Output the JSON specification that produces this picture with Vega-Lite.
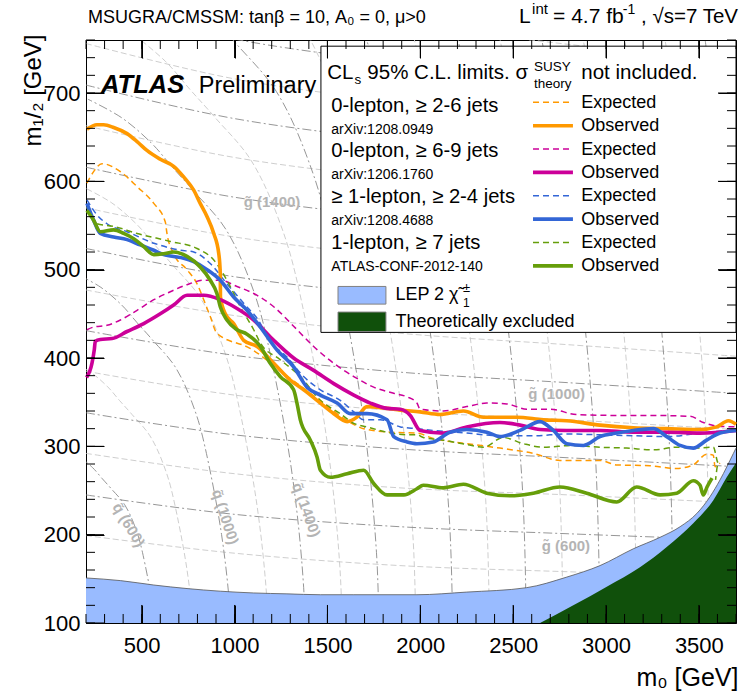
{
  "$schema": "https://vega.github.io/schema/vega-lite/v6.json",
  "width": 650,
  "height": 583,
  "autosize": "none",
  "padding": {"left": 86, "top": 40, "right": 3, "bottom": 69},
  "background": "white",
  "config": {
    "view": {"stroke": "black", "strokeWidth": 1},
    "font": "Liberation Sans",
    "text": {"font": "Liberation Sans", "color": "black"}
  },
  "datasets": {
    "curves": [
      {"analysis":"0L_2to6","kind":"exp","i":0,"m0":205,"m12":598},{"analysis":"0L_2to6","kind":"exp","i":1,"m0":241,"m12":611},{"analysis":"0L_2to6","kind":"exp","i":2,"m0":286,"m12":620},{"analysis":"0L_2to6","kind":"exp","i":3,"m0":385,"m12":611},{"analysis":"0L_2to6","kind":"exp","i":4,"m0":475,"m12":594},{"analysis":"0L_2to6","kind":"exp","i":5,"m0":565,"m12":575},{"analysis":"0L_2to6","kind":"exp","i":6,"m0":627,"m12":554},{"analysis":"0L_2to6","kind":"exp","i":7,"m0":636,"m12":541},{"analysis":"0L_2to6","kind":"exp","i":8,"m0":672,"m12":518},{"analysis":"0L_2to6","kind":"exp","i":9,"m0":744,"m12":500},{"analysis":"0L_2to6","kind":"exp","i":10,"m0":798,"m12":484},{"analysis":"0L_2to6","kind":"exp","i":11,"m0":834,"m12":466},{"analysis":"0L_2to6","kind":"exp","i":12,"m0":869,"m12":447},{"analysis":"0L_2to6","kind":"exp","i":13,"m0":905,"m12":428},{"analysis":"0L_2to6","kind":"exp","i":14,"m0":1083,"m12":411},{"analysis":"0L_2to6","kind":"exp","i":15,"m0":1299,"m12":377},{"analysis":"0L_2to6","kind":"exp","i":16,"m0":1460,"m12":352},{"analysis":"0L_2to6","kind":"exp","i":17,"m0":1622,"m12":327},{"analysis":"0L_2to6","kind":"exp","i":18,"m0":1695,"m12":320},{"analysis":"0L_2to6","kind":"exp","i":19,"m0":1837,"m12":316},{"analysis":"0L_2to6","kind":"exp","i":20,"m0":1982,"m12":315},{"analysis":"0L_2to6","kind":"exp","i":21,"m0":2069,"m12":309},{"analysis":"0L_2to6","kind":"exp","i":22,"m0":2250,"m12":303},{"analysis":"0L_2to6","kind":"exp","i":23,"m0":2429,"m12":298},{"analysis":"0L_2to6","kind":"exp","i":24,"m0":2609,"m12":292},{"analysis":"0L_2to6","kind":"exp","i":25,"m0":2752,"m12":284},{"analysis":"0L_2to6","kind":"exp","i":26,"m0":2968,"m12":284},{"analysis":"0L_2to6","kind":"exp","i":27,"m0":3058,"m12":279},{"analysis":"0L_2to6","kind":"exp","i":28,"m0":3237,"m12":278},{"analysis":"0L_2to6","kind":"exp","i":29,"m0":3381,"m12":275},{"analysis":"0L_2to6","kind":"exp","i":30,"m0":3470,"m12":279},{"analysis":"0L_2to6","kind":"exp","i":31,"m0":3542,"m12":291},{"analysis":"0L_2to6","kind":"exp","i":32,"m0":3578,"m12":290},{"analysis":"0L_2to6","kind":"exp","i":33,"m0":3587,"m12":277},{"analysis":"0L_2to6","kind":"exp","i":34,"m0":3614,"m12":281},
      {"analysis":"0L_2to6","kind":"obs","i":0,"m0":205,"m12":659},{"analysis":"0L_2to6","kind":"obs","i":1,"m0":259,"m12":664},{"analysis":"0L_2to6","kind":"obs","i":2,"m0":295,"m12":664},{"analysis":"0L_2to6","kind":"obs","i":3,"m0":349,"m12":661},{"analysis":"0L_2to6","kind":"obs","i":4,"m0":421,"m12":654},{"analysis":"0L_2to6","kind":"obs","i":5,"m0":475,"m12":645},{"analysis":"0L_2to6","kind":"obs","i":6,"m0":528,"m12":635},{"analysis":"0L_2to6","kind":"obs","i":7,"m0":600,"m12":625},{"analysis":"0L_2to6","kind":"obs","i":8,"m0":672,"m12":617},{"analysis":"0L_2to6","kind":"obs","i":9,"m0":726,"m12":605},{"analysis":"0L_2to6","kind":"obs","i":10,"m0":780,"m12":590},{"analysis":"0L_2to6","kind":"obs","i":11,"m0":815,"m12":575},{"analysis":"0L_2to6","kind":"obs","i":12,"m0":852,"m12":560},{"analysis":"0L_2to6","kind":"obs","i":13,"m0":888,"m12":541},{"analysis":"0L_2to6","kind":"obs","i":14,"m0":915,"m12":518},{"analysis":"0L_2to6","kind":"obs","i":15,"m0":923,"m12":496},{"analysis":"0L_2to6","kind":"obs","i":16,"m0":924,"m12":469},{"analysis":"0L_2to6","kind":"obs","i":17,"m0":950,"m12":450},{"analysis":"0L_2to6","kind":"obs","i":18,"m0":995,"m12":439},{"analysis":"0L_2to6","kind":"obs","i":19,"m0":1049,"m12":420},{"analysis":"0L_2to6","kind":"obs","i":20,"m0":1121,"m12":413},{"analysis":"0L_2to6","kind":"obs","i":21,"m0":1211,"m12":394},{"analysis":"0L_2to6","kind":"obs","i":22,"m0":1300,"m12":375},{"analysis":"0L_2to6","kind":"obs","i":23,"m0":1372,"m12":364},{"analysis":"0L_2to6","kind":"obs","i":24,"m0":1462,"m12":349},{"analysis":"0L_2to6","kind":"obs","i":25,"m0":1534,"m12":337},{"analysis":"0L_2to6","kind":"obs","i":26,"m0":1606,"m12":328},{"analysis":"0L_2to6","kind":"obs","i":27,"m0":1659,"m12":333},{"analysis":"0L_2to6","kind":"obs","i":28,"m0":1713,"m12":345},{"analysis":"0L_2to6","kind":"obs","i":29,"m0":1821,"m12":343},{"analysis":"0L_2to6","kind":"obs","i":30,"m0":1893,"m12":341},{"analysis":"0L_2to6","kind":"obs","i":31,"m0":1999,"m12":339},{"analysis":"0L_2to6","kind":"obs","i":32,"m0":2106,"m12":336},{"analysis":"0L_2to6","kind":"obs","i":33,"m0":2232,"m12":340},{"analysis":"0L_2to6","kind":"obs","i":34,"m0":2340,"m12":333},{"analysis":"0L_2to6","kind":"obs","i":35,"m0":2519,"m12":333},{"analysis":"0L_2to6","kind":"obs","i":36,"m0":2663,"m12":330},{"analysis":"0L_2to6","kind":"obs","i":37,"m0":2789,"m12":329},{"analysis":"0L_2to6","kind":"obs","i":38,"m0":2968,"m12":324},{"analysis":"0L_2to6","kind":"obs","i":39,"m0":3147,"m12":321},{"analysis":"0L_2to6","kind":"obs","i":40,"m0":3327,"m12":320},{"analysis":"0L_2to6","kind":"obs","i":41,"m0":3506,"m12":319},{"analysis":"0L_2to6","kind":"obs","i":42,"m0":3596,"m12":322},{"analysis":"0L_2to6","kind":"obs","i":43,"m0":3659,"m12":329},{"analysis":"0L_2to6","kind":"obs","i":44,"m0":3700,"m12":325},
      {"analysis":"0L_6to9","kind":"exp","i":0,"m0":205,"m12":432},{"analysis":"0L_6to9","kind":"exp","i":1,"m0":241,"m12":435},{"analysis":"0L_6to9","kind":"exp","i":2,"m0":313,"m12":437},{"analysis":"0L_6to9","kind":"exp","i":3,"m0":385,"m12":443},{"analysis":"0L_6to9","kind":"exp","i":4,"m0":475,"m12":454},{"analysis":"0L_6to9","kind":"exp","i":5,"m0":565,"m12":466},{"analysis":"0L_6to9","kind":"exp","i":6,"m0":654,"m12":475},{"analysis":"0L_6to9","kind":"exp","i":7,"m0":744,"m12":483},{"analysis":"0L_6to9","kind":"exp","i":8,"m0":834,"m12":488},{"analysis":"0L_6to9","kind":"exp","i":9,"m0":923,"m12":488},{"analysis":"0L_6to9","kind":"exp","i":10,"m0":1013,"m12":481},{"analysis":"0L_6to9","kind":"exp","i":11,"m0":1103,"m12":473},{"analysis":"0L_6to9","kind":"exp","i":12,"m0":1211,"m12":458},{"analysis":"0L_6to9","kind":"exp","i":13,"m0":1318,"m12":436},{"analysis":"0L_6to9","kind":"exp","i":14,"m0":1426,"m12":413},{"analysis":"0L_6to9","kind":"exp","i":15,"m0":1534,"m12":394},{"analysis":"0L_6to9","kind":"exp","i":16,"m0":1642,"m12":379},{"analysis":"0L_6to9","kind":"exp","i":17,"m0":1749,"m12":367},{"analysis":"0L_6to9","kind":"exp","i":18,"m0":1857,"m12":360},{"analysis":"0L_6to9","kind":"exp","i":19,"m0":1929,"m12":356},{"analysis":"0L_6to9","kind":"exp","i":20,"m0":1982,"m12":349},{"analysis":"0L_6to9","kind":"exp","i":21,"m0":1999,"m12":342},{"analysis":"0L_6to9","kind":"exp","i":22,"m0":2124,"m12":340},{"analysis":"0L_6to9","kind":"exp","i":23,"m0":2250,"m12":345},{"analysis":"0L_6to9","kind":"exp","i":24,"m0":2358,"m12":349},{"analysis":"0L_6to9","kind":"exp","i":25,"m0":2466,"m12":348},{"analysis":"0L_6to9","kind":"exp","i":26,"m0":2573,"m12":342},{"analysis":"0L_6to9","kind":"exp","i":27,"m0":2699,"m12":342},{"analysis":"0L_6to9","kind":"exp","i":28,"m0":2842,"m12":336},{"analysis":"0L_6to9","kind":"exp","i":29,"m0":3058,"m12":335},{"analysis":"0L_6to9","kind":"exp","i":30,"m0":3237,"m12":335},{"analysis":"0L_6to9","kind":"exp","i":31,"m0":3453,"m12":334},{"analysis":"0L_6to9","kind":"exp","i":32,"m0":3524,"m12":327},{"analysis":"0L_6to9","kind":"exp","i":33,"m0":3596,"m12":323},{"analysis":"0L_6to9","kind":"exp","i":34,"m0":3700,"m12":322},
      {"analysis":"0L_6to9","kind":"obs","i":0,"m0":203,"m12":378},{"analysis":"0L_6to9","kind":"obs","i":1,"m0":232,"m12":394},{"analysis":"0L_6to9","kind":"obs","i":2,"m0":245,"m12":410},{"analysis":"0L_6to9","kind":"obs","i":3,"m0":250,"m12":419},{"analysis":"0L_6to9","kind":"obs","i":4,"m0":277,"m12":421},{"analysis":"0L_6to9","kind":"obs","i":5,"m0":340,"m12":422},{"analysis":"0L_6to9","kind":"obs","i":6,"m0":421,"m12":430},{"analysis":"0L_6to9","kind":"obs","i":7,"m0":511,"m12":439},{"analysis":"0L_6to9","kind":"obs","i":8,"m0":600,"m12":450},{"analysis":"0L_6to9","kind":"obs","i":9,"m0":672,"m12":460},{"analysis":"0L_6to9","kind":"obs","i":10,"m0":744,"m12":471},{"analysis":"0L_6to9","kind":"obs","i":11,"m0":834,"m12":471},{"analysis":"0L_6to9","kind":"obs","i":12,"m0":923,"m12":466},{"analysis":"0L_6to9","kind":"obs","i":13,"m0":1013,"m12":456},{"analysis":"0L_6to9","kind":"obs","i":14,"m0":1103,"m12":443},{"analysis":"0L_6to9","kind":"obs","i":15,"m0":1211,"m12":420},{"analysis":"0L_6to9","kind":"obs","i":16,"m0":1318,"m12":400},{"analysis":"0L_6to9","kind":"obs","i":17,"m0":1426,"m12":386},{"analysis":"0L_6to9","kind":"obs","i":18,"m0":1534,"m12":371},{"analysis":"0L_6to9","kind":"obs","i":19,"m0":1642,"m12":358},{"analysis":"0L_6to9","kind":"obs","i":20,"m0":1731,"m12":349},{"analysis":"0L_6to9","kind":"obs","i":21,"m0":1821,"m12":343},{"analysis":"0L_6to9","kind":"obs","i":22,"m0":1893,"m12":342},{"analysis":"0L_6to9","kind":"obs","i":23,"m0":1946,"m12":335},{"analysis":"0L_6to9","kind":"obs","i":24,"m0":1999,"m12":318},{"analysis":"0L_6to9","kind":"obs","i":25,"m0":2124,"m12":315},{"analysis":"0L_6to9","kind":"obs","i":26,"m0":2250,"m12":322},{"analysis":"0L_6to9","kind":"obs","i":27,"m0":2429,"m12":327},{"analysis":"0L_6to9","kind":"obs","i":28,"m0":2537,"m12":324},{"analysis":"0L_6to9","kind":"obs","i":29,"m0":2645,"m12":319},{"analysis":"0L_6to9","kind":"obs","i":30,"m0":2789,"m12":318},{"analysis":"0L_6to9","kind":"obs","i":31,"m0":2968,"m12":318},{"analysis":"0L_6to9","kind":"obs","i":32,"m0":3147,"m12":316},{"analysis":"0L_6to9","kind":"obs","i":33,"m0":3327,"m12":316},{"analysis":"0L_6to9","kind":"obs","i":34,"m0":3506,"m12":315},{"analysis":"0L_6to9","kind":"obs","i":35,"m0":3700,"m12":318},
      {"analysis":"1L_2to4","kind":"exp","i":0,"m0":205,"m12":579},{"analysis":"1L_2to4","kind":"exp","i":1,"m0":259,"m12":562},{"analysis":"1L_2to4","kind":"exp","i":2,"m0":313,"m12":552},{"analysis":"1L_2to4","kind":"exp","i":3,"m0":421,"m12":543},{"analysis":"1L_2to4","kind":"exp","i":4,"m0":565,"m12":530},{"analysis":"1L_2to4","kind":"exp","i":5,"m0":708,"m12":522},{"analysis":"1L_2to4","kind":"exp","i":6,"m0":780,"m12":520},{"analysis":"1L_2to4","kind":"exp","i":7,"m0":869,"m12":507},{"analysis":"1L_2to4","kind":"exp","i":8,"m0":959,"m12":484},{"analysis":"1L_2to4","kind":"exp","i":9,"m0":1049,"m12":462},{"analysis":"1L_2to4","kind":"exp","i":10,"m0":1139,"m12":439},{"analysis":"1L_2to4","kind":"exp","i":11,"m0":1175,"m12":424},{"analysis":"1L_2to4","kind":"exp","i":12,"m0":1282,"m12":401},{"analysis":"1L_2to4","kind":"exp","i":13,"m0":1372,"m12":379},{"analysis":"1L_2to4","kind":"exp","i":14,"m0":1462,"m12":364},{"analysis":"1L_2to4","kind":"exp","i":15,"m0":1569,"m12":352},{"analysis":"1L_2to4","kind":"exp","i":16,"m0":1642,"m12":339},{"analysis":"1L_2to4","kind":"exp","i":17,"m0":1695,"m12":330},{"analysis":"1L_2to4","kind":"exp","i":18,"m0":1785,"m12":330},{"analysis":"1L_2to4","kind":"exp","i":19,"m0":1893,"m12":322},{"analysis":"1L_2to4","kind":"exp","i":20,"m0":1982,"m12":320},{"analysis":"1L_2to4","kind":"exp","i":21,"m0":2070,"m12":318},{"analysis":"1L_2to4","kind":"exp","i":22,"m0":2250,"m12":315},{"analysis":"1L_2to4","kind":"exp","i":23,"m0":2429,"m12":312},{"analysis":"1L_2to4","kind":"exp","i":24,"m0":2609,"m12":312},{"analysis":"1L_2to4","kind":"exp","i":25,"m0":2789,"m12":314},{"analysis":"1L_2to4","kind":"exp","i":26,"m0":2968,"m12":313},{"analysis":"1L_2to4","kind":"exp","i":27,"m0":3147,"m12":312},{"analysis":"1L_2to4","kind":"exp","i":28,"m0":3327,"m12":311},{"analysis":"1L_2to4","kind":"exp","i":29,"m0":3506,"m12":315},{"analysis":"1L_2to4","kind":"exp","i":30,"m0":3700,"m12":319},
      {"analysis":"1L_2to4","kind":"obs","i":0,"m0":205,"m12":575},{"analysis":"1L_2to4","kind":"obs","i":1,"m0":241,"m12":556},{"analysis":"1L_2to4","kind":"obs","i":2,"m0":277,"m12":541},{"analysis":"1L_2to4","kind":"obs","i":3,"m0":349,"m12":537},{"analysis":"1L_2to4","kind":"obs","i":4,"m0":421,"m12":534},{"analysis":"1L_2to4","kind":"obs","i":5,"m0":492,"m12":528},{"analysis":"1L_2to4","kind":"obs","i":6,"m0":565,"m12":522},{"analysis":"1L_2to4","kind":"obs","i":7,"m0":618,"m12":517},{"analysis":"1L_2to4","kind":"obs","i":8,"m0":672,"m12":515},{"analysis":"1L_2to4","kind":"obs","i":9,"m0":726,"m12":513},{"analysis":"1L_2to4","kind":"obs","i":10,"m0":780,"m12":509},{"analysis":"1L_2to4","kind":"obs","i":11,"m0":852,"m12":500},{"analysis":"1L_2to4","kind":"obs","i":12,"m0":923,"m12":488},{"analysis":"1L_2to4","kind":"obs","i":13,"m0":995,"m12":469},{"analysis":"1L_2to4","kind":"obs","i":14,"m0":1067,"m12":454},{"analysis":"1L_2to4","kind":"obs","i":15,"m0":1139,"m12":435},{"analysis":"1L_2to4","kind":"obs","i":16,"m0":1229,"m12":409},{"analysis":"1L_2to4","kind":"obs","i":17,"m0":1318,"m12":390},{"analysis":"1L_2to4","kind":"obs","i":18,"m0":1390,"m12":367},{"analysis":"1L_2to4","kind":"obs","i":19,"m0":1462,"m12":358},{"analysis":"1L_2to4","kind":"obs","i":20,"m0":1552,"m12":349},{"analysis":"1L_2to4","kind":"obs","i":21,"m0":1623,"m12":337},{"analysis":"1L_2to4","kind":"obs","i":22,"m0":1713,"m12":337},{"analysis":"1L_2to4","kind":"obs","i":23,"m0":1821,"m12":330},{"analysis":"1L_2to4","kind":"obs","i":24,"m0":1857,"m12":311},{"analysis":"1L_2to4","kind":"obs","i":25,"m0":1929,"m12":305},{"analysis":"1L_2to4","kind":"obs","i":26,"m0":1982,"m12":303},{"analysis":"1L_2to4","kind":"obs","i":27,"m0":2070,"m12":305},{"analysis":"1L_2to4","kind":"obs","i":28,"m0":2160,"m12":316},{"analysis":"1L_2to4","kind":"obs","i":29,"m0":2250,"m12":319},{"analysis":"1L_2to4","kind":"obs","i":30,"m0":2358,"m12":316},{"analysis":"1L_2to4","kind":"obs","i":31,"m0":2429,"m12":311},{"analysis":"1L_2to4","kind":"obs","i":32,"m0":2537,"m12":318},{"analysis":"1L_2to4","kind":"obs","i":33,"m0":2645,"m12":328},{"analysis":"1L_2to4","kind":"obs","i":34,"m0":2716,"m12":318},{"analysis":"1L_2to4","kind":"obs","i":35,"m0":2789,"m12":303},{"analysis":"1L_2to4","kind":"obs","i":36,"m0":2878,"m12":301},{"analysis":"1L_2to4","kind":"obs","i":37,"m0":2968,"m12":311},{"analysis":"1L_2to4","kind":"obs","i":38,"m0":3058,"m12":315},{"analysis":"1L_2to4","kind":"obs","i":39,"m0":3147,"m12":318},{"analysis":"1L_2to4","kind":"obs","i":40,"m0":3255,"m12":320},{"analysis":"1L_2to4","kind":"obs","i":41,"m0":3327,"m12":311},{"analysis":"1L_2to4","kind":"obs","i":42,"m0":3399,"m12":301},{"analysis":"1L_2to4","kind":"obs","i":43,"m0":3470,"m12":298},{"analysis":"1L_2to4","kind":"obs","i":44,"m0":3542,"m12":307},{"analysis":"1L_2to4","kind":"obs","i":45,"m0":3614,"m12":315},{"analysis":"1L_2to4","kind":"obs","i":46,"m0":3700,"m12":318},
      {"analysis":"1L_7","kind":"exp","i":0,"m0":205,"m12":571},{"analysis":"1L_7","kind":"exp","i":1,"m0":259,"m12":552},{"analysis":"1L_7","kind":"exp","i":2,"m0":349,"m12":549},{"analysis":"1L_7","kind":"exp","i":3,"m0":475,"m12":541},{"analysis":"1L_7","kind":"exp","i":4,"m0":654,"m12":532},{"analysis":"1L_7","kind":"exp","i":5,"m0":798,"m12":524},{"analysis":"1L_7","kind":"exp","i":6,"m0":888,"m12":511},{"analysis":"1L_7","kind":"exp","i":7,"m0":959,"m12":488},{"analysis":"1L_7","kind":"exp","i":8,"m0":1031,"m12":458},{"analysis":"1L_7","kind":"exp","i":9,"m0":1103,"m12":432},{"analysis":"1L_7","kind":"exp","i":10,"m0":1139,"m12":417},{"analysis":"1L_7","kind":"exp","i":11,"m0":1246,"m12":398},{"analysis":"1L_7","kind":"exp","i":12,"m0":1354,"m12":379},{"analysis":"1L_7","kind":"exp","i":13,"m0":1462,"m12":352},{"analysis":"1L_7","kind":"exp","i":14,"m0":1569,"m12":337},{"analysis":"1L_7","kind":"exp","i":15,"m0":1642,"m12":326},{"analysis":"1L_7","kind":"exp","i":16,"m0":1713,"m12":322},{"analysis":"1L_7","kind":"exp","i":17,"m0":1821,"m12":316},{"analysis":"1L_7","kind":"exp","i":18,"m0":1929,"m12":313},{"analysis":"1L_7","kind":"exp","i":19,"m0":1982,"m12":313},{"analysis":"1L_7","kind":"exp","i":20,"m0":2016,"m12":310},{"analysis":"1L_7","kind":"exp","i":21,"m0":2124,"m12":307},{"analysis":"1L_7","kind":"exp","i":22,"m0":2250,"m12":302},{"analysis":"1L_7","kind":"exp","i":23,"m0":2340,"m12":299},{"analysis":"1L_7","kind":"exp","i":24,"m0":2447,"m12":310},{"analysis":"1L_7","kind":"exp","i":25,"m0":2555,"m12":303},{"analysis":"1L_7","kind":"exp","i":26,"m0":2663,"m12":299},{"analysis":"1L_7","kind":"exp","i":27,"m0":2824,"m12":301},{"analysis":"1L_7","kind":"exp","i":28,"m0":2968,"m12":299},{"analysis":"1L_7","kind":"exp","i":29,"m0":3111,"m12":298},{"analysis":"1L_7","kind":"exp","i":30,"m0":3255,"m12":296},{"analysis":"1L_7","kind":"exp","i":31,"m0":3381,"m12":299},{"analysis":"1L_7","kind":"exp","i":32,"m0":3470,"m12":298},{"analysis":"1L_7","kind":"exp","i":33,"m0":3578,"m12":299},{"analysis":"1L_7","kind":"exp","i":34,"m0":3605,"m12":281},{"analysis":"1L_7","kind":"exp","i":35,"m0":3590,"m12":262},
      {"analysis":"1L_7","kind":"obs","i":0,"m0":205,"m12":567},{"analysis":"1L_7","kind":"obs","i":1,"m0":241,"m12":556},{"analysis":"1L_7","kind":"obs","i":2,"m0":277,"m12":543},{"analysis":"1L_7","kind":"obs","i":3,"m0":349,"m12":545},{"analysis":"1L_7","kind":"obs","i":4,"m0":403,"m12":541},{"analysis":"1L_7","kind":"obs","i":5,"m0":457,"m12":535},{"analysis":"1L_7","kind":"obs","i":6,"m0":511,"m12":526},{"analysis":"1L_7","kind":"obs","i":7,"m0":565,"m12":517},{"analysis":"1L_7","kind":"obs","i":8,"m0":618,"m12":518},{"analysis":"1L_7","kind":"obs","i":9,"m0":672,"m12":520},{"analysis":"1L_7","kind":"obs","i":10,"m0":744,"m12":515},{"analysis":"1L_7","kind":"obs","i":11,"m0":815,"m12":503},{"analysis":"1L_7","kind":"obs","i":12,"m0":869,"m12":488},{"analysis":"1L_7","kind":"obs","i":13,"m0":905,"m12":473},{"analysis":"1L_7","kind":"obs","i":14,"m0":923,"m12":458},{"analysis":"1L_7","kind":"obs","i":15,"m0":959,"m12":443},{"analysis":"1L_7","kind":"obs","i":16,"m0":1013,"m12":432},{"analysis":"1L_7","kind":"obs","i":17,"m0":1067,"m12":427},{"analysis":"1L_7","kind":"obs","i":18,"m0":1139,"m12":413},{"analysis":"1L_7","kind":"obs","i":19,"m0":1192,"m12":394},{"analysis":"1L_7","kind":"obs","i":20,"m0":1246,"m12":379},{"analysis":"1L_7","kind":"obs","i":21,"m0":1318,"m12":364},{"analysis":"1L_7","kind":"obs","i":22,"m0":1336,"m12":349},{"analysis":"1L_7","kind":"obs","i":23,"m0":1354,"m12":330},{"analysis":"1L_7","kind":"obs","i":24,"m0":1408,"m12":307},{"analysis":"1L_7","kind":"obs","i":25,"m0":1444,"m12":288},{"analysis":"1L_7","kind":"obs","i":26,"m0":1462,"m12":273},{"analysis":"1L_7","kind":"obs","i":27,"m0":1516,"m12":265},{"analysis":"1L_7","kind":"obs","i":28,"m0":1606,"m12":269},{"analysis":"1L_7","kind":"obs","i":29,"m0":1695,"m12":273},{"analysis":"1L_7","kind":"obs","i":30,"m0":1749,"m12":258},{"analysis":"1L_7","kind":"obs","i":31,"m0":1821,"m12":245},{"analysis":"1L_7","kind":"obs","i":32,"m0":1911,"m12":245},{"analysis":"1L_7","kind":"obs","i":33,"m0":1982,"m12":252},{"analysis":"1L_7","kind":"obs","i":34,"m0":2016,"m12":256},{"analysis":"1L_7","kind":"obs","i":35,"m0":2124,"m12":253},{"analysis":"1L_7","kind":"obs","i":36,"m0":2232,"m12":257},{"analysis":"1L_7","kind":"obs","i":37,"m0":2358,"m12":247},{"analysis":"1L_7","kind":"obs","i":38,"m0":2483,"m12":244},{"analysis":"1L_7","kind":"obs","i":39,"m0":2609,"m12":247},{"analysis":"1L_7","kind":"obs","i":40,"m0":2752,"m12":254},{"analysis":"1L_7","kind":"obs","i":41,"m0":2896,"m12":247},{"analysis":"1L_7","kind":"obs","i":42,"m0":3058,"m12":237},{"analysis":"1L_7","kind":"obs","i":43,"m0":3165,"m12":254},{"analysis":"1L_7","kind":"obs","i":44,"m0":3291,"m12":245},{"analysis":"1L_7","kind":"obs","i":45,"m0":3381,"m12":247},{"analysis":"1L_7","kind":"obs","i":46,"m0":3470,"m12":261},{"analysis":"1L_7","kind":"obs","i":47,"m0":3506,"m12":256},{"analysis":"1L_7","kind":"obs","i":48,"m0":3524,"m12":245},{"analysis":"1L_7","kind":"obs","i":49,"m0":3544,"m12":254},{"analysis":"1L_7","kind":"obs","i":50,"m0":3571,"m12":264}
    ],
    "lep": [
      {"m0":200,"m12":151},{"m0":385,"m12":148},{"m0":565,"m12":143},{"m0":744,"m12":139},{"m0":923,"m12":136},{"m0":1103,"m12":134},{"m0":1282,"m12":133},{"m0":1462,"m12":132},{"m0":1642,"m12":132},{"m0":1982,"m12":132},{"m0":2250,"m12":135},{"m0":2573,"m12":140},{"m0":2789,"m12":152},{"m0":2968,"m12":165},{"m0":3147,"m12":184},{"m0":3291,"m12":197},{"m0":3399,"m12":209},{"m0":3489,"m12":224},{"m0":3560,"m12":243},{"m0":3614,"m12":262},{"m0":3686,"m12":292},{"m0":3700,"m12":298}
    ],
    "excluded": [
      {"m0":2645,"m12":100},{"m0":2824,"m12":120},{"m0":3004,"m12":141},{"m0":3183,"m12":163},{"m0":3327,"m12":186},{"m0":3470,"m12":213},{"m0":3578,"m12":239},{"m0":3650,"m12":265},{"m0":3700,"m12":281}
    ],
    "xTicks": [{"m0":200},{"m0":300},{"m0":400},{"m0":500},{"m0":600},{"m0":700},{"m0":800},{"m0":900},{"m0":1000},{"m0":1100},{"m0":1200},{"m0":1300},{"m0":1400},{"m0":1500},{"m0":1600},{"m0":1700},{"m0":1800},{"m0":1900},{"m0":2000},{"m0":2100},{"m0":2200},{"m0":2300},{"m0":2400},{"m0":2500},{"m0":2600},{"m0":2700},{"m0":2800},{"m0":2900},{"m0":3000},{"m0":3100},{"m0":3200},{"m0":3300},{"m0":3400},{"m0":3500},{"m0":3600},{"m0":3700}],
    "yTicks": [{"m12":100},{"m12":120},{"m12":140},{"m12":160},{"m12":180},{"m12":200},{"m12":220},{"m12":240},{"m12":260},{"m12":280},{"m12":300},{"m12":320},{"m12":340},{"m12":360},{"m12":380},{"m12":400},{"m12":420},{"m12":440},{"m12":460},{"m12":480},{"m12":500},{"m12":520},{"m12":540},{"m12":560},{"m12":580},{"m12":600},{"m12":620},{"m12":640},{"m12":660},{"m12":680},{"m12":700},{"m12":720},{"m12":740},{"m12":760}],
    "massContours": [
      {"family":"gluino","mass":500,"i":0,"m0":200,"m12":199},{"family":"gluino","mass":500,"i":1,"m0":1000,"m12":179},{"family":"gluino","mass":500,"i":2,"m0":1890,"m12":165},{"family":"gluino","mass":500,"i":3,"m0":2800,"m12":158},{"family":"gluino","mass":500,"i":4,"m0":3700,"m12":152},
      {"family":"gluino","mass":600,"i":0,"m0":200,"m12":245},{"family":"gluino","mass":600,"i":1,"m0":1000,"m12":223},{"family":"gluino","mass":600,"i":2,"m0":1890,"m12":209},{"family":"gluino","mass":600,"i":3,"m0":2800,"m12":201},{"family":"gluino","mass":600,"i":4,"m0":3700,"m12":194},
      {"family":"gluino","mass":700,"i":0,"m0":200,"m12":292},{"family":"gluino","mass":700,"i":1,"m0":1000,"m12":269},{"family":"gluino","mass":700,"i":2,"m0":1890,"m12":253},{"family":"gluino","mass":700,"i":3,"m0":2800,"m12":245},{"family":"gluino","mass":700,"i":4,"m0":3700,"m12":236},
      {"family":"gluino","mass":800,"i":0,"m0":200,"m12":338},{"family":"gluino","mass":800,"i":1,"m0":1000,"m12":313},{"family":"gluino","mass":800,"i":2,"m0":1890,"m12":297},{"family":"gluino","mass":800,"i":3,"m0":2800,"m12":287},{"family":"gluino","mass":800,"i":4,"m0":3700,"m12":277},
      {"family":"gluino","mass":900,"i":0,"m0":200,"m12":385},{"family":"gluino","mass":900,"i":1,"m0":1000,"m12":358},{"family":"gluino","mass":900,"i":2,"m0":1890,"m12":340},{"family":"gluino","mass":900,"i":3,"m0":2800,"m12":330},{"family":"gluino","mass":900,"i":4,"m0":3700,"m12":319},
      {"family":"gluino","mass":1000,"i":0,"m0":200,"m12":431},{"family":"gluino","mass":1000,"i":1,"m0":1000,"m12":403},{"family":"gluino","mass":1000,"i":2,"m0":1890,"m12":384},{"family":"gluino","mass":1000,"i":3,"m0":2800,"m12":372},{"family":"gluino","mass":1000,"i":4,"m0":3700,"m12":360},
      {"family":"gluino","mass":1100,"i":0,"m0":200,"m12":477},{"family":"gluino","mass":1100,"i":1,"m0":1000,"m12":448},{"family":"gluino","mass":1100,"i":2,"m0":1890,"m12":428},{"family":"gluino","mass":1100,"i":3,"m0":2800,"m12":415},{"family":"gluino","mass":1100,"i":4,"m0":3700,"m12":402},
      {"family":"gluino","mass":1200,"i":0,"m0":200,"m12":524},{"family":"gluino","mass":1200,"i":1,"m0":1000,"m12":492},{"family":"gluino","mass":1200,"i":2,"m0":1890,"m12":471},{"family":"gluino","mass":1200,"i":3,"m0":2800,"m12":457},{"family":"gluino","mass":1200,"i":4,"m0":3700,"m12":443},
      {"family":"gluino","mass":1300,"i":0,"m0":200,"m12":570},{"family":"gluino","mass":1300,"i":1,"m0":1000,"m12":537},{"family":"gluino","mass":1300,"i":2,"m0":1890,"m12":515},{"family":"gluino","mass":1300,"i":3,"m0":2800,"m12":500},{"family":"gluino","mass":1300,"i":4,"m0":3700,"m12":485},
      {"family":"gluino","mass":1400,"i":0,"m0":200,"m12":616},{"family":"gluino","mass":1400,"i":1,"m0":1000,"m12":582},{"family":"gluino","mass":1400,"i":2,"m0":1890,"m12":559},{"family":"gluino","mass":1400,"i":3,"m0":2800,"m12":543},{"family":"gluino","mass":1400,"i":4,"m0":3700,"m12":526},
      {"family":"gluino","mass":1500,"i":0,"m0":200,"m12":663},{"family":"gluino","mass":1500,"i":1,"m0":1000,"m12":627},{"family":"gluino","mass":1500,"i":2,"m0":1890,"m12":603},{"family":"gluino","mass":1500,"i":3,"m0":2800,"m12":586},{"family":"gluino","mass":1500,"i":4,"m0":3700,"m12":568},
      {"family":"gluino","mass":1600,"i":0,"m0":200,"m12":709},{"family":"gluino","mass":1600,"i":1,"m0":1000,"m12":671},{"family":"gluino","mass":1600,"i":2,"m0":1890,"m12":646},{"family":"gluino","mass":1600,"i":3,"m0":2800,"m12":628},{"family":"gluino","mass":1600,"i":4,"m0":3700,"m12":609},
      {"family":"gluino","mass":1700,"i":0,"m0":200,"m12":756},{"family":"gluino","mass":1700,"i":1,"m0":1000,"m12":716},{"family":"gluino","mass":1700,"i":2,"m0":1890,"m12":690},{"family":"gluino","mass":1700,"i":3,"m0":2800,"m12":671},{"family":"gluino","mass":1700,"i":4,"m0":3700,"m12":651},
      {"family":"gluino","mass":1800,"i":0,"m0":200,"m12":802},{"family":"gluino","mass":1800,"i":1,"m0":1000,"m12":761},{"family":"gluino","mass":1800,"i":2,"m0":1890,"m12":734},{"family":"gluino","mass":1800,"i":3,"m0":2800,"m12":713},{"family":"gluino","mass":1800,"i":4,"m0":3700,"m12":692},
      {"family":"gluino","mass":1900,"i":0,"m0":1000,"m12":806},{"family":"gluino","mass":1900,"i":1,"m0":1890,"m12":778},{"family":"gluino","mass":1900,"i":2,"m0":2800,"m12":755},{"family":"gluino","mass":1900,"i":3,"m0":3700,"m12":734},
      {"family":"gluino","mass":2000,"i":0,"m0":1890,"m12":822},{"family":"gluino","mass":2000,"i":1,"m0":2800,"m12":797},{"family":"gluino","mass":2000,"i":2,"m0":3700,"m12":775},
      {"family":"squark","mass":600,"i":0,"m0":594,"m12":0},{"family":"squark","mass":600,"i":1,"m0":588,"m12":60},{"family":"squark","mass":600,"i":2,"m0":558,"m12":120},{"family":"squark","mass":600,"i":3,"m0":504,"m12":180},{"family":"squark","mass":600,"i":4,"m0":462,"m12":210},{"family":"squark","mass":600,"i":5,"m0":408,"m12":234},{"family":"squark","mass":600,"i":6,"m0":336,"m12":252},{"family":"squark","mass":600,"i":7,"m0":285,"m12":264},{"family":"squark","mass":600,"i":8,"m0":235,"m12":276},{"family":"squark","mass":600,"i":9,"m0":168,"m12":288},
      {"family":"squark","mass":800,"i":0,"m0":792,"m12":0},{"family":"squark","mass":800,"i":1,"m0":784,"m12":80},{"family":"squark","mass":800,"i":2,"m0":744,"m12":160},{"family":"squark","mass":800,"i":3,"m0":672,"m12":240},{"family":"squark","mass":800,"i":4,"m0":616,"m12":280},{"family":"squark","mass":800,"i":5,"m0":544,"m12":312},{"family":"squark","mass":800,"i":6,"m0":448,"m12":336},{"family":"squark","mass":800,"i":7,"m0":380,"m12":352},{"family":"squark","mass":800,"i":8,"m0":314,"m12":368},{"family":"squark","mass":800,"i":9,"m0":224,"m12":384},{"family":"squark","mass":800,"i":10,"m0":120,"m12":396},
      {"family":"squark","mass":1000,"i":0,"m0":990,"m12":0},{"family":"squark","mass":1000,"i":1,"m0":980,"m12":100},{"family":"squark","mass":1000,"i":2,"m0":930,"m12":200},{"family":"squark","mass":1000,"i":3,"m0":840,"m12":300},{"family":"squark","mass":1000,"i":4,"m0":770,"m12":350},{"family":"squark","mass":1000,"i":5,"m0":680,"m12":390},{"family":"squark","mass":1000,"i":6,"m0":560,"m12":420},{"family":"squark","mass":1000,"i":7,"m0":475,"m12":440},{"family":"squark","mass":1000,"i":8,"m0":392,"m12":460},{"family":"squark","mass":1000,"i":9,"m0":280,"m12":480},{"family":"squark","mass":1000,"i":10,"m0":150,"m12":495},
      {"family":"squark","mass":1200,"i":0,"m0":1188,"m12":0},{"family":"squark","mass":1200,"i":1,"m0":1176,"m12":120},{"family":"squark","mass":1200,"i":2,"m0":1116,"m12":240},{"family":"squark","mass":1200,"i":3,"m0":1008,"m12":360},{"family":"squark","mass":1200,"i":4,"m0":924,"m12":420},{"family":"squark","mass":1200,"i":5,"m0":816,"m12":468},{"family":"squark","mass":1200,"i":6,"m0":672,"m12":504},{"family":"squark","mass":1200,"i":7,"m0":570,"m12":528},{"family":"squark","mass":1200,"i":8,"m0":470,"m12":552},{"family":"squark","mass":1200,"i":9,"m0":336,"m12":576},{"family":"squark","mass":1200,"i":10,"m0":180,"m12":594},
      {"family":"squark","mass":1400,"i":0,"m0":1386,"m12":0},{"family":"squark","mass":1400,"i":1,"m0":1372,"m12":140},{"family":"squark","mass":1400,"i":2,"m0":1302,"m12":280},{"family":"squark","mass":1400,"i":3,"m0":1176,"m12":420},{"family":"squark","mass":1400,"i":4,"m0":1078,"m12":490},{"family":"squark","mass":1400,"i":5,"m0":952,"m12":546},{"family":"squark","mass":1400,"i":6,"m0":784,"m12":588},{"family":"squark","mass":1400,"i":7,"m0":665,"m12":616},{"family":"squark","mass":1400,"i":8,"m0":549,"m12":644},{"family":"squark","mass":1400,"i":9,"m0":392,"m12":672},{"family":"squark","mass":1400,"i":10,"m0":210,"m12":693},
      {"family":"squark","mass":1600,"i":0,"m0":1584,"m12":0},{"family":"squark","mass":1600,"i":1,"m0":1568,"m12":160},{"family":"squark","mass":1600,"i":2,"m0":1488,"m12":320},{"family":"squark","mass":1600,"i":3,"m0":1344,"m12":480},{"family":"squark","mass":1600,"i":4,"m0":1232,"m12":560},{"family":"squark","mass":1600,"i":5,"m0":1088,"m12":624},{"family":"squark","mass":1600,"i":6,"m0":896,"m12":672},{"family":"squark","mass":1600,"i":7,"m0":760,"m12":704},{"family":"squark","mass":1600,"i":8,"m0":627,"m12":736},{"family":"squark","mass":1600,"i":9,"m0":448,"m12":768},
      {"family":"squark","mass":1800,"i":0,"m0":1782,"m12":0},{"family":"squark","mass":1800,"i":1,"m0":1764,"m12":180},{"family":"squark","mass":1800,"i":2,"m0":1674,"m12":360},{"family":"squark","mass":1800,"i":3,"m0":1512,"m12":540},{"family":"squark","mass":1800,"i":4,"m0":1386,"m12":630},{"family":"squark","mass":1800,"i":5,"m0":1224,"m12":702},{"family":"squark","mass":1800,"i":6,"m0":1008,"m12":756},{"family":"squark","mass":1800,"i":7,"m0":855,"m12":792},
      {"family":"squark","mass":2000,"i":0,"m0":1980,"m12":0},{"family":"squark","mass":2000,"i":1,"m0":1960,"m12":200},{"family":"squark","mass":2000,"i":2,"m0":1860,"m12":400},{"family":"squark","mass":2000,"i":3,"m0":1680,"m12":600},{"family":"squark","mass":2000,"i":4,"m0":1540,"m12":700},{"family":"squark","mass":2000,"i":5,"m0":1360,"m12":780},
      {"family":"squark","mass":2200,"i":0,"m0":2178,"m12":0},{"family":"squark","mass":2200,"i":1,"m0":2156,"m12":220},{"family":"squark","mass":2200,"i":2,"m0":2046,"m12":440},{"family":"squark","mass":2200,"i":3,"m0":1848,"m12":660},{"family":"squark","mass":2200,"i":4,"m0":1694,"m12":770},
      {"family":"squark","mass":2400,"i":0,"m0":2376,"m12":0},{"family":"squark","mass":2400,"i":1,"m0":2352,"m12":240},{"family":"squark","mass":2400,"i":2,"m0":2232,"m12":480},{"family":"squark","mass":2400,"i":3,"m0":2016,"m12":720},{"family":"squark","mass":2400,"i":4,"m0":1848,"m12":840},
      {"family":"squark","mass":2600,"i":0,"m0":2574,"m12":0},{"family":"squark","mass":2600,"i":1,"m0":2548,"m12":260},{"family":"squark","mass":2600,"i":2,"m0":2418,"m12":520},{"family":"squark","mass":2600,"i":3,"m0":2184,"m12":780},
      {"family":"squark","mass":2800,"i":0,"m0":2772,"m12":0},{"family":"squark","mass":2800,"i":1,"m0":2744,"m12":280},{"family":"squark","mass":2800,"i":2,"m0":2604,"m12":560},{"family":"squark","mass":2800,"i":3,"m0":2352,"m12":840},
      {"family":"squark","mass":3000,"i":0,"m0":2970,"m12":0},{"family":"squark","mass":3000,"i":1,"m0":2940,"m12":300},{"family":"squark","mass":3000,"i":2,"m0":2790,"m12":600},{"family":"squark","mass":3000,"i":3,"m0":2520,"m12":900},
      {"family":"squark","mass":3200,"i":0,"m0":3168,"m12":0},{"family":"squark","mass":3200,"i":1,"m0":3136,"m12":320},{"family":"squark","mass":3200,"i":2,"m0":2976,"m12":640},{"family":"squark","mass":3200,"i":3,"m0":2688,"m12":960},
      {"family":"squark","mass":3400,"i":0,"m0":3366,"m12":0},{"family":"squark","mass":3400,"i":1,"m0":3332,"m12":340},{"family":"squark","mass":3400,"i":2,"m0":3162,"m12":680},{"family":"squark","mass":3400,"i":3,"m0":2856,"m12":1020},
      {"family":"squark","mass":3600,"i":0,"m0":3564,"m12":0},{"family":"squark","mass":3600,"i":1,"m0":3528,"m12":360},{"family":"squark","mass":3600,"i":2,"m0":3348,"m12":720},{"family":"squark","mass":3600,"i":3,"m0":3024,"m12":1080},
      {"family":"squark","mass":3800,"i":0,"m0":3762,"m12":0},{"family":"squark","mass":3800,"i":1,"m0":3724,"m12":380},{"family":"squark","mass":3800,"i":2,"m0":3534,"m12":760}
    ]
  },
  "layer": [
    {
      "data": {"name": "massContours"},
      "transform": [{"filter": "!((datum.family === 'gluino' && datum.mass % 200 === 0) || (datum.family === 'squark' && (datum.mass - 600) % 400 === 0))"}],
      "mark": {"type": "line", "clip": true, "color": "#c8c8c8", "strokeWidth": 0.9, "strokeDash": [6, 3], "interpolate": "cardinal"},
      "encoding": {
        "x": {"field": "m0", "type": "quantitative",
          "scale": {"domain": [200, 3700], "nice": false, "zero": false},
          "axis": {
            "orient": "bottom", "offset": -18, "tickSize": 18, "zindex": 1, "domain": false, "grid": false,
            "values": [500, 1000, 1500, 2000, 2500, 3000, 3500], "format": "d",
            "tickColor": "black", "tickWidth": 1,
            "labelFont": "Liberation Sans", "labelFontSize": 22, "labelColor": "black",
            "labelPadding": 12, "labelOverlap": false, "labelFlush": false,
            "title": "m₀ [GeV]", "titleFont": "Liberation Sans", "titleFontSize": 25, "titleFontWeight": "normal", "titleColor": "black",
            "titleX": 652, "titleY": 80, "titleAlign": "right", "titleAnchor": "end", "titleBaseline": "alphabetic"
          }
        },
        "y": {"field": "m12", "type": "quantitative",
          "scale": {"domain": [100, 760], "nice": false, "zero": false},
          "axis": {
            "orient": "left", "offset": -18, "tickSize": 18, "zindex": 1, "domain": false, "grid": false,
            "values": [100, 200, 300, 400, 500, 600, 700], "format": "d",
            "tickColor": "black", "tickWidth": 1,
            "labelFont": "Liberation Sans", "labelFontSize": 22, "labelColor": "black",
            "labelPadding": 6, "labelOverlap": false, "labelFlush": false,
            "title": "m₁/₂ [GeV]", "titleFont": "Liberation Sans", "titleFontSize": 24, "titleFontWeight": "normal", "titleColor": "black",
            "titleX": -64, "titleY": -6, "titleAngle": -90, "titleAlign": "right", "titleAnchor": "end", "titleBaseline": "alphabetic"
          }
        },
        "order": {"field": "i"},
        "detail": [{"field": "family"}, {"field": "mass"}]
      }
    },
    {
      "data": {"name": "massContours"},
      "transform": [{"filter": "(datum.family === 'gluino' && datum.mass % 200 === 0) || (datum.family === 'squark' && (datum.mass - 600) % 400 === 0)"}],
      "mark": {"type": "line", "clip": true, "color": "#8a8a8a", "strokeWidth": 0.9, "strokeDash": [9, 3, 2, 3], "interpolate": "cardinal"},
      "encoding": {
        "x": {"field": "m0", "type": "quantitative",
          "axis": {
            "orient": "top", "offset": -18, "tickSize": 18, "zindex": 1, "domain": false, "grid": false, "labels": false, "title": null,
            "values": [500, 1000, 1500, 2000, 2500, 3000, 3500], "tickColor": "black", "tickWidth": 1
          }
        },
        "y": {"field": "m12", "type": "quantitative",
          "axis": {
            "orient": "right", "offset": -18, "tickSize": 18, "zindex": 1, "domain": false, "grid": false, "labels": false, "title": null,
            "values": [100, 200, 300, 400, 500, 600, 700], "tickColor": "black", "tickWidth": 1
          }
        },
        "order": {"field": "i"},
        "detail": [{"field": "family"}, {"field": "mass"}]
      }
    },
    {
      "data": {"name": "lep"},
      "mark": {"type": "area", "color": "#99bbff", "interpolate": "monotone"},
      "encoding": {
        "x": {"field": "m0", "type": "quantitative", "axis": null},
        "y": {"field": "m12", "type": "quantitative", "axis": null},
        "y2": {"datum": 100}
      }
    },
    {
      "data": {"name": "excluded"},
      "mark": {"type": "area", "color": "#10500b", "interpolate": "monotone"},
      "encoding": {
        "x": {"field": "m0", "type": "quantitative", "axis": null},
        "y": {"field": "m12", "type": "quantitative", "axis": null},
        "y2": {"datum": 100}
      }
    },
    {
      "data": {"name": "lep"},
      "mark": {"type": "line", "color": "#555555", "strokeWidth": 0.8, "interpolate": "monotone"},
      "encoding": {
        "x": {"field": "m0", "type": "quantitative", "axis": null},
        "y": {"field": "m12", "type": "quantitative", "axis": null}
      }
    },
    {
      "data": {"values": [{"label": "g̃ (1400)", "m0": 1049, "m12": 571}, {"label": "g̃ (1000)", "m0": 2582, "m12": 354}, {"label": "g̃ (600)", "m0": 2654, "m12": 182}]},
      "mark": {"type": "text", "fontSize": 15, "fontWeight": "bold", "color": "#b4b4b4", "align": "left", "baseline": "alphabetic"},
      "encoding": {
        "x": {"field": "m0", "type": "quantitative", "axis": null},
        "y": {"field": "m12", "type": "quantitative", "axis": null},
        "text": {"field": "label"}
      }
    },
    {
      "data": {"values": [{"label": "q̃ (600)", "m0": 430, "m12": 211}]},
      "mark": {"type": "text", "fontSize": 15, "fontWeight": "bold", "color": "#b4b4b4", "align": "center", "baseline": "middle", "angle": 59},
      "encoding": {"x": {"field": "m0", "type": "quantitative", "axis": null}, "y": {"field": "m12", "type": "quantitative", "axis": null}, "text": {"field": "label"}}
    },
    {
      "data": {"values": [{"label": "q̃ (1000)", "m0": 950, "m12": 220}]},
      "mark": {"type": "text", "fontSize": 15, "fontWeight": "bold", "color": "#b4b4b4", "align": "center", "baseline": "middle", "angle": 72},
      "encoding": {"x": {"field": "m0", "type": "quantitative", "axis": null}, "y": {"field": "m12", "type": "quantitative", "axis": null}, "text": {"field": "label"}}
    },
    {
      "data": {"values": [{"label": "q̃ (1400)", "m0": 1386, "m12": 228}]},
      "mark": {"type": "text", "fontSize": 15, "fontWeight": "bold", "color": "#b4b4b4", "align": "center", "baseline": "middle", "angle": 70},
      "encoding": {"x": {"field": "m0", "type": "quantitative", "axis": null}, "y": {"field": "m12", "type": "quantitative", "axis": null}, "text": {"field": "label"}}
    },
    {
      "data": {"name": "curves"},
      "transform": [{"filter": "datum.kind === 'exp'"}],
      "mark": {"type": "line", "strokeWidth": 1.5, "strokeDash": [6, 4], "interpolate": "monotone"},
      "encoding": {
        "x": {"field": "m0", "type": "quantitative", "axis": null},
        "y": {"field": "m12", "type": "quantitative", "axis": null},
        "order": {"field": "i"},
        "color": {"field": "analysis", "type": "nominal", "legend": null,
          "scale": {"domain": ["0L_2to6", "0L_6to9", "1L_2to4", "1L_7"], "range": ["#ff9900", "#cc0099", "#3366d6", "#669e0a"]}}
      }
    },
    {
      "data": {"name": "curves"},
      "transform": [{"filter": "datum.kind === 'obs'"}],
      "mark": {"type": "line", "strokeWidth": 3.6, "interpolate": "monotone"},
      "encoding": {
        "x": {"field": "m0", "type": "quantitative", "axis": null},
        "y": {"field": "m12", "type": "quantitative", "axis": null},
        "order": {"field": "i"},
        "color": {"field": "analysis", "type": "nominal", "legend": null}
      }
    },
    {
      "data": {"values": [{}]},
      "mark": {"type": "rect", "fill": "white", "stroke": "black", "strokeWidth": 1},
      "encoding": {
        "x": {"datum": 1465, "type": "quantitative", "axis": null}, "x2": {"datum": 3700},
        "y": {"datum": 753, "type": "quantitative", "axis": null}, "y2": {"datum": 429}
      }
    },
    {
      "data": {"values": [{}]},
      "mark": {"type": "text", "text": "MSUGRA/CMSSM: tanβ = 10, A₀ = 0, μ>0", "fontSize": 18, "align": "left", "baseline": "alphabetic"},
      "encoding": {"x": {"datum": 211, "type": "quantitative", "axis": null}, "y": {"datum": 779, "type": "quantitative", "axis": null}}
    },
    {
      "data": {"values": [{}]},
      "mark": {"type": "text", "text": "L", "fontSize": 21, "align": "left", "baseline": "alphabetic"},
      "encoding": {"x": {"datum": 2532, "type": "quantitative", "axis": null}, "y": {"datum": 779, "type": "quantitative", "axis": null}}
    },
    {
      "data": {"values": [{}]},
      "mark": {"type": "text", "text": "int", "fontSize": 15, "align": "left", "baseline": "alphabetic"},
      "encoding": {"x": {"datum": 2602, "type": "quantitative", "axis": null}, "y": {"datum": 789.5, "type": "quantitative", "axis": null}}
    },
    {
      "data": {"values": [{}]},
      "mark": {"type": "text", "text": "= 4.7 fb", "fontSize": 21, "align": "left", "baseline": "alphabetic"},
      "encoding": {"x": {"datum": 2715, "type": "quantitative", "axis": null}, "y": {"datum": 779, "type": "quantitative", "axis": null}}
    },
    {
      "data": {"values": [{}]},
      "mark": {"type": "text", "text": "-1", "fontSize": 14, "align": "left", "baseline": "alphabetic"},
      "encoding": {"x": {"datum": 3090, "type": "quantitative", "axis": null}, "y": {"datum": 789.5, "type": "quantitative", "axis": null}}
    },
    {
      "data": {"values": [{}]},
      "mark": {"type": "text", "text": ", √s=7 TeV", "fontSize": 20.5, "align": "right", "baseline": "alphabetic"},
      "encoding": {"x": {"datum": 3711, "type": "quantitative", "axis": null}, "y": {"datum": 779, "type": "quantitative", "axis": null}}
    },
    {
      "data": {"values": [{}]},
      "mark": {"type": "text", "text": "ATLAS", "fontSize": 25.5, "fontWeight": "bold", "fontStyle": "italic", "align": "left", "baseline": "alphabetic"},
      "encoding": {"x": {"datum": 281, "type": "quantitative", "axis": null}, "y": {"datum": 700, "type": "quantitative", "axis": null}}
    },
    {
      "data": {"values": [{}]},
      "mark": {"type": "text", "text": "Preliminary", "fontSize": 23.5, "align": "left", "baseline": "alphabetic"},
      "encoding": {"x": {"datum": 807, "type": "quantitative", "axis": null}, "y": {"datum": 700, "type": "quantitative", "axis": null}}
    },
    {
      "data": {"values": [{}]},
      "mark": {"type": "text", "text": "CL", "fontSize": 20.5, "align": "left", "baseline": "alphabetic"},
      "encoding": {"x": {"datum": 1499, "type": "quantitative", "axis": null}, "y": {"datum": 716, "type": "quantitative", "axis": null}}
    },
    {
      "data": {"values": [{}]},
      "mark": {"type": "text", "text": "s", "fontSize": 13.5, "align": "left", "baseline": "alphabetic"},
      "encoding": {"x": {"datum": 1646, "type": "quantitative", "axis": null}, "y": {"datum": 710, "type": "quantitative", "axis": null}}
    },
    {
      "data": {"values": [{}]},
      "mark": {"type": "text", "text": "95% C.L. limits. σ", "fontSize": 20.5, "align": "left", "baseline": "alphabetic"},
      "encoding": {"x": {"datum": 1715, "type": "quantitative", "axis": null}, "y": {"datum": 716, "type": "quantitative", "axis": null}}
    },
    {
      "data": {"values": [{}]},
      "mark": {"type": "text", "text": "SUSY", "fontSize": 13.5, "align": "left", "baseline": "alphabetic"},
      "encoding": {"x": {"datum": 2612, "type": "quantitative", "axis": null}, "y": {"datum": 725, "type": "quantitative", "axis": null}}
    },
    {
      "data": {"values": [{}]},
      "mark": {"type": "text", "text": "theory", "fontSize": 13.5, "align": "left", "baseline": "alphabetic"},
      "encoding": {"x": {"datum": 2612, "type": "quantitative", "axis": null}, "y": {"datum": 706, "type": "quantitative", "axis": null}}
    },
    {
      "data": {"values": [{}]},
      "mark": {"type": "text", "text": "not included.", "fontSize": 20.5, "align": "left", "baseline": "alphabetic"},
      "encoding": {"x": {"datum": 2867, "type": "quantitative", "axis": null}, "y": {"datum": 716, "type": "quantitative", "axis": null}}
    },
    {
      "data": {"values": [{}]},
      "mark": {"type": "text", "text": ["0-lepton, ≥ 2-6 jets", "0-lepton, ≥ 6-9 jets", "≥ 1-lepton, ≥ 2-4 jets", "1-lepton, ≥ 7 jets"], "fontSize": 20.2, "lineHeight": 45.7, "align": "left", "baseline": "alphabetic"},
      "encoding": {"x": {"datum": 1521, "type": "quantitative", "axis": null}, "y": {"datum": 679, "type": "quantitative", "axis": null}}
    },
    {
      "data": {"values": [{}]},
      "mark": {"type": "text", "text": ["arXiv:1208.0949", "arXiv:1206.1760", "arXiv:1208.4688", "ATLAS-CONF-2012-140"], "fontSize": 14, "lineHeight": 45.7, "align": "left", "baseline": "alphabetic"},
      "encoding": {"x": {"datum": 1521, "type": "quantitative", "axis": null}, "y": {"datum": 654, "type": "quantitative", "axis": null}}
    },
    {
      "data": {"values": [{}]},
      "mark": {"type": "text", "text": ["Expected", "Observed", "Expected", "Observed", "Expected", "Observed", "Expected", "Observed"], "fontSize": 18, "lineHeight": 23.33, "align": "left", "baseline": "alphabetic"},
      "encoding": {"x": {"datum": 2867, "type": "quantitative", "axis": null}, "y": {"datum": 683, "type": "quantitative", "axis": null}}
    },
    {
      "data": {"values": [{}]},
      "mark": {"type": "rule", "color": "#ff9900", "strokeWidth": 1.5, "strokeDash": [6, 4]},
      "encoding": {"x": {"datum": 2607, "type": "quantitative", "axis": null}, "x2": {"datum": 2822}, "y": {"datum": 689.4, "type": "quantitative", "axis": null}}
    },
    {
      "data": {"values": [{}]},
      "mark": {"type": "rule", "color": "#ff9900", "strokeWidth": 3.6},
      "encoding": {"x": {"datum": 2607, "type": "quantitative", "axis": null}, "x2": {"datum": 2822}, "y": {"datum": 662.9, "type": "quantitative", "axis": null}}
    },
    {
      "data": {"values": [{}]},
      "mark": {"type": "rule", "color": "#cc0099", "strokeWidth": 1.5, "strokeDash": [6, 4]},
      "encoding": {"x": {"datum": 2607, "type": "quantitative", "axis": null}, "x2": {"datum": 2822}, "y": {"datum": 636.5, "type": "quantitative", "axis": null}}
    },
    {
      "data": {"values": [{}]},
      "mark": {"type": "rule", "color": "#cc0099", "strokeWidth": 3.6},
      "encoding": {"x": {"datum": 2607, "type": "quantitative", "axis": null}, "x2": {"datum": 2822}, "y": {"datum": 610.1, "type": "quantitative", "axis": null}}
    },
    {
      "data": {"values": [{}]},
      "mark": {"type": "rule", "color": "#3366d6", "strokeWidth": 1.5, "strokeDash": [6, 4]},
      "encoding": {"x": {"datum": 2607, "type": "quantitative", "axis": null}, "x2": {"datum": 2822}, "y": {"datum": 583.6, "type": "quantitative", "axis": null}}
    },
    {
      "data": {"values": [{}]},
      "mark": {"type": "rule", "color": "#3366d6", "strokeWidth": 3.6},
      "encoding": {"x": {"datum": 2607, "type": "quantitative", "axis": null}, "x2": {"datum": 2822}, "y": {"datum": 557.2, "type": "quantitative", "axis": null}}
    },
    {
      "data": {"values": [{}]},
      "mark": {"type": "rule", "color": "#669e0a", "strokeWidth": 1.5, "strokeDash": [6, 4]},
      "encoding": {"x": {"datum": 2607, "type": "quantitative", "axis": null}, "x2": {"datum": 2822}, "y": {"datum": 530.8, "type": "quantitative", "axis": null}}
    },
    {
      "data": {"values": [{}]},
      "mark": {"type": "rule", "color": "#669e0a", "strokeWidth": 3.6},
      "encoding": {"x": {"datum": 2607, "type": "quantitative", "axis": null}, "x2": {"datum": 2822}, "y": {"datum": 504.3, "type": "quantitative", "axis": null}}
    },
    {
      "data": {"values": [{}]},
      "mark": {"type": "rect", "fill": "#99bbff", "stroke": "#808080", "strokeWidth": 1},
      "encoding": {"x": {"datum": 1557, "type": "quantitative", "axis": null}, "x2": {"datum": 1815}, "y": {"datum": 481, "type": "quantitative", "axis": null}, "y2": {"datum": 461}}
    },
    {
      "data": {"values": [{}]},
      "mark": {"type": "rect", "fill": "#10500b", "stroke": "#808080", "strokeWidth": 1},
      "encoding": {"x": {"datum": 1557, "type": "quantitative", "axis": null}, "x2": {"datum": 1815}, "y": {"datum": 452, "type": "quantitative", "axis": null}, "y2": {"datum": 430}}
    },
    {
      "data": {"values": [{}]},
      "mark": {"type": "text", "text": "LEP 2 χ̃", "fontSize": 18, "align": "left", "baseline": "alphabetic"},
      "encoding": {"x": {"datum": 1866, "type": "quantitative", "axis": null}, "y": {"datum": 465.5, "type": "quantitative", "axis": null}}
    },
    {
      "data": {"values": [{}]},
      "mark": {"type": "text", "text": "±", "fontSize": 13, "align": "left", "baseline": "alphabetic"},
      "encoding": {"x": {"datum": 2230, "type": "quantitative", "axis": null}, "y": {"datum": 475, "type": "quantitative", "axis": null}}
    },
    {
      "data": {"values": [{}]},
      "mark": {"type": "text", "text": "1", "fontSize": 12, "align": "left", "baseline": "alphabetic"},
      "encoding": {"x": {"datum": 2230, "type": "quantitative", "axis": null}, "y": {"datum": 458, "type": "quantitative", "axis": null}}
    },
    {
      "data": {"values": [{}]},
      "mark": {"type": "text", "text": "Theoretically excluded", "fontSize": 18, "align": "left", "baseline": "alphabetic"},
      "encoding": {"x": {"datum": 1866, "type": "quantitative", "axis": null}, "y": {"datum": 435, "type": "quantitative", "axis": null}}
    },
    {
      "data": {"name": "xTicks"},
      "transform": [{"filter": "datum.m0 % 500 === 0"}],
      "mark": {"type": "rule", "color": "black", "strokeWidth": 1},
      "encoding": {"x": {"field": "m0", "type": "quantitative", "axis": null}, "y": {"datum": 100, "type": "quantitative", "axis": null}, "y2": {"datum": 120.4}}
    },
    {
      "data": {"name": "xTicks"},
      "mark": {"type": "rule", "color": "black", "strokeWidth": 1},
      "encoding": {"x": {"field": "m0", "type": "quantitative", "axis": null}, "y": {"datum": 100, "type": "quantitative", "axis": null}, "y2": {"datum": 110.2}}
    },
    {
      "data": {"name": "xTicks"},
      "transform": [{"filter": "datum.m0 % 500 === 0"}],
      "mark": {"type": "rule", "color": "black", "strokeWidth": 1},
      "encoding": {"x": {"field": "m0", "type": "quantitative", "axis": null}, "y": {"datum": 760, "type": "quantitative", "axis": null}, "y2": {"datum": 739.6}}
    },
    {
      "data": {"name": "xTicks"},
      "mark": {"type": "rule", "color": "black", "strokeWidth": 1},
      "encoding": {"x": {"field": "m0", "type": "quantitative", "axis": null}, "y": {"datum": 760, "type": "quantitative", "axis": null}, "y2": {"datum": 749.8}}
    },
    {
      "data": {"name": "yTicks"},
      "transform": [{"filter": "datum.m12 % 100 === 0"}],
      "mark": {"type": "rule", "color": "black", "strokeWidth": 1},
      "encoding": {"y": {"field": "m12", "type": "quantitative", "axis": null}, "x": {"datum": 200, "type": "quantitative", "axis": null}, "x2": {"datum": 296.9}}
    },
    {
      "data": {"name": "yTicks"},
      "mark": {"type": "rule", "color": "black", "strokeWidth": 1},
      "encoding": {"y": {"field": "m12", "type": "quantitative", "axis": null}, "x": {"datum": 200, "type": "quantitative", "axis": null}, "x2": {"datum": 248.5}}
    },
    {
      "data": {"name": "yTicks"},
      "transform": [{"filter": "datum.m12 % 100 === 0"}],
      "mark": {"type": "rule", "color": "black", "strokeWidth": 1},
      "encoding": {"y": {"field": "m12", "type": "quantitative", "axis": null}, "x": {"datum": 3700, "type": "quantitative", "axis": null}, "x2": {"datum": 3603.1}}
    },
    {
      "data": {"name": "yTicks"},
      "mark": {"type": "rule", "color": "black", "strokeWidth": 1},
      "encoding": {"y": {"field": "m12", "type": "quantitative", "axis": null}, "x": {"datum": 3700, "type": "quantitative", "axis": null}, "x2": {"datum": 3651.5}}
    }
  ]
}
